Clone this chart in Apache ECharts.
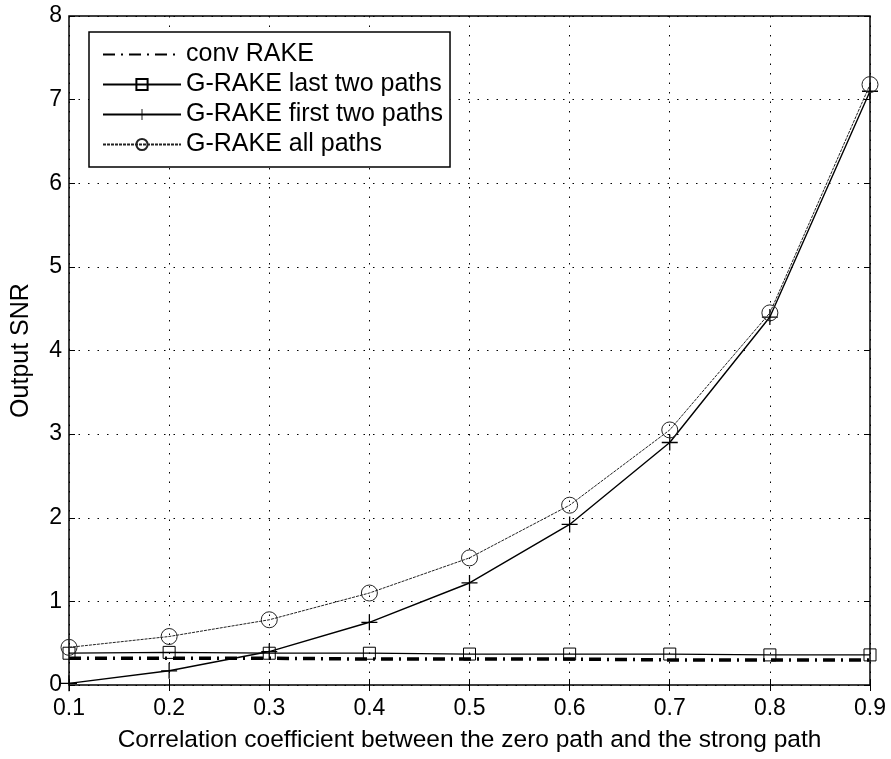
<!DOCTYPE html>
<html>
<head>
<meta charset="utf-8">
<script src="https://cdn.jsdelivr.net/npm/echarts@6/dist/echarts.min.js"></script>
<style>
  html, body { margin: 0; padding: 0; background: #fff; }
  #chart { width: 891px; height: 759px; }
</style>
</head>
<body>
<div id="chart"></div>
<script>
// correlation coefficient values (x)
const corr = [0.1, 0.2, 0.3, 0.4, 0.5, 0.6, 0.7, 0.8, 0.9];

// output SNR per receiver
const convRake = [0.32, 0.32, 0.32, 0.31, 0.31, 0.31, 0.30, 0.30, 0.30];
const lastTwo = [0.38, 0.39, 0.38, 0.38, 0.37, 0.37, 0.37, 0.36, 0.36];
const firstTwo = [0.02, 0.17, 0.40, 0.75, 1.22, 1.92, 2.90, 4.40, 7.10];
const allPaths = [0.45, 0.58, 0.78, 1.10, 1.52, 2.15, 3.05, 4.45, 7.18];

const seriesNames = ['conv RAKE', 'G-RAKE last two paths', 'G-RAKE first two paths', 'G-RAKE all paths'];

const font = 'Liberation Sans, Arial, Helvetica, sans-serif';
const pts = ys => corr.map((x, i) => [x, ys[i]]);

// plus marker as a thin filled cross
const plusPath = 'path://M4.6,0h0.8v4.6h4.6v0.8h-4.6v4.6h-0.8v-4.6h-4.6v-0.8h4.6z';

let chart = echarts.init(document.getElementById('chart'));

const hiddenAxis = {
    axisLine: { show: false },
    axisLabel: { show: false },
    splitLine: { show: false },
    axisTick: { show: true, inside: true, length: 6, lineStyle: { color: '#000' } }
};

chart.setOption({
    backgroundColor: '#fff',
    animation: false,
    grid: {
        left: 69, right: 21, top: 16, bottom: 74,
        show: true, borderColor: '#000', borderWidth: 1.5
    },
    legend: {
        data: seriesNames,
        orient: 'vertical',
        left: 89,
        top: 32,
        padding: [10, 7, 10, 13],
        itemGap: 5,
        itemWidth: 78,
        itemHeight: 14,
        backgroundColor: '#fff',
        borderColor: '#000',
        borderWidth: 1.5,
        textStyle: { fontFamily: font, fontSize: 25, lineHeight: 25, color: '#000' }
    },
    xAxis: [{
        type: 'value',
        min: 0.1,
        max: 0.9,
        interval: 0.1,
        name: 'Correlation coefficient between the zero path and the strong path',
        nameLocation: 'middle',
        nameGap: 43,
        nameTextStyle: { fontFamily: font, fontSize: 24.5, color: '#000' },
        axisLine: { show: false },
        axisTick: { show: true, inside: true, length: 6, lineStyle: { color: '#000' } },
        axisLabel: {
            fontFamily: font, fontSize: 23, color: '#000', margin: 12,
            formatter: v => v.toFixed(1)
        },
        splitLine: { show: true, lineStyle: { color: '#000', type: [1.5, 8], width: 1 } }
    }, Object.assign({
        type: 'value', position: 'top', min: 0.1, max: 0.9, interval: 0.1
    }, hiddenAxis)],
    yAxis: [{
        type: 'value',
        min: 0,
        max: 8,
        interval: 1,
        name: 'Output SNR',
        nameLocation: 'middle',
        nameGap: 35,
        nameTextStyle: { fontFamily: font, fontSize: 25, color: '#000' },
        axisLine: { show: false },
        axisTick: { show: true, inside: true, length: 6, lineStyle: { color: '#000' } },
        axisLabel: { fontFamily: font, fontSize: 23, color: '#000', margin: 7 },
        splitLine: { show: true, lineStyle: { color: '#000', type: [1.5, 8], width: 1 } }
    }, Object.assign({
        type: 'value', position: 'right', min: 0, max: 8, interval: 1
    }, hiddenAxis)],
    series: [{
        name: seriesNames[0],
        type: 'line',
        data: pts(convRake),
        showSymbol: false,
        symbol: 'rect',
        symbolSize: 1,
        lineStyle: { color: '#000', width: 3.5, type: [12, 6, 2, 6] },
        itemStyle: { color: 'rgba(0,0,0,0)', borderWidth: 0 },
        z: 3
    }, {
        name: seriesNames[1],
        type: 'line',
        data: pts(lastTwo),
        symbol: 'rect',
        symbolSize: 12,
        lineStyle: { color: '#000', width: 1.2 },
        itemStyle: { color: 'rgba(0,0,0,0)', borderColor: '#000', borderWidth: 1 },
        z: 4
    }, {
        name: seriesNames[2],
        type: 'line',
        data: pts(firstTwo),
        symbol: plusPath,
        symbolSize: 16,
        lineStyle: { color: '#000', width: 1.4 },
        itemStyle: { color: '#000' },
        z: 5
    }, {
        name: seriesNames[3],
        type: 'line',
        data: pts(allPaths),
        symbol: 'circle',
        symbolSize: 16,
        lineStyle: { color: '#222', width: 1, type: [3, 1] },
        itemStyle: { color: 'rgba(0,0,0,0)', borderColor: '#222', borderWidth: 1 },
        z: 6
    }]
});
</script>
</body>
</html>
